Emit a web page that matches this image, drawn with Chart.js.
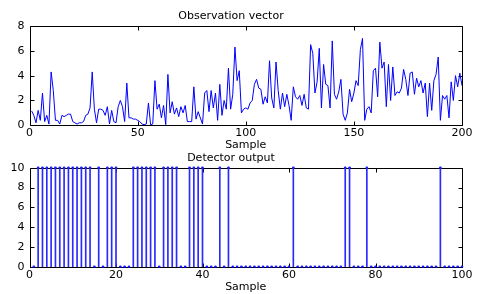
<!DOCTYPE html>
<html><head><meta charset="utf-8">
<script src="https://cdn.jsdelivr.net/npm/chart.js@4/dist/chart.umd.min.js"></script>
<style>
html,body{margin:0;padding:0;background:#fff;}
#wrap{position:relative;width:477px;height:294px;overflow:hidden;background:#fff;}
.box{position:absolute;left:0;width:477px;}
</style></head><body>
<div id="wrap">
<div class="box" style="top:0;height:152px"><canvas id="c1"></canvas></div>
<div class="box" style="top:148px;height:146px"><canvas id="c2"></canvas></div>
</div>
<script>
// ---- data ----
const observationVector = [
 1.15,0.8,0.2,1.2,0.4,2.6,0.3,0.8,0.1,4.3,
 2.8,0.4,0.4,0.1,0.8,0.7,0.8,0.9,0.9,0.3,
 0.2,0.1,0.2,0.2,0.3,0.8,0.9,1.4,4.3,1.3,
 0.2,1.3,1.3,1.2,0.8,1.5,0.1,1.2,0.3,0.2,
 1.5,2.0,1.5,0.3,3.4,0.6,0.6,0.5,0.5,0.4,
 0.3,0.1,0.05,0.1,1.8,0.05,0.1,3.6,1.3,1.7,
 0.6,1.6,0.05,4.1,1.0,1.9,0.9,1.4,0.7,1.5,
 1.0,1.6,0.3,0.3,0.3,3.1,0.5,1.1,0.6,0.1,
 2.6,2.8,1.1,2.8,1.4,2.6,0.4,3.3,0.8,2.0,
 1.3,4.6,1.3,2.5,6.3,3.6,4.4,1.0,1.3,1.4,
 1.3,1.8,2.0,3.3,3.7,3.0,2.9,1.7,2.3,1.8,
 5.2,2.2,1.4,5.1,2.8,1.3,2.6,1.5,2.5,1.6,
 0.4,3.1,2.3,2.1,2.4,1.6,2.5,1.4,1.3,6.5,
 5.8,2.6,3.5,6.2,1.4,4.9,3.3,3.2,1.4,6.8,
 2.5,2.1,2.7,3.7,0.9,0.4,1.0,2.9,1.9,2.6,
 3.6,3.2,6.1,7.0,0.4,1.3,1.5,1.0,4.4,4.6,
 2.3,6.7,4.6,5.1,1.5,4.9,2.0,4.7,2.4,2.7,
 2.6,3.0,4.5,3.7,2.4,4.2,4.3,2.5,3.8,3.1,
 3.6,2.6,3.4,0.7,3.4,1.2,3.6,4.1,5.5,0.4,
 2.4,2.1,2.4,0.6,3.5,2.0,4.0,3.1,4.2,3.2
];
const detectorOutput = [
 0,10,10,10,10,10,10,10,10,10,
 10,10,10,10,0,10,0,10,10,10,
 0,0,0,10,10,10,10,10,10,0,
 10,10,10,10,0,0,10,10,10,10,
 0,0,0,10,0,10,0,0,0,0,
 0,0,0,0,0,0,0,0,0,0,
 10,0,0,0,0,0,0,0,0,0,
 0,0,10,10,0,0,0,10,0,0,
 0,0,0,0,0,0,0,0,0,0,
 0,0,0,0,10,0,0,0,0,0
];
const topXTicks = [0, 50, 100, 150, 200];
const topYTicks = [0, 2, 4, 6, 8];
const botXTicks = [0, 20, 40, 60, 80, 100];
const botYTicks = [0, 2, 4, 6, 8, 10];
const topTitle = 'Observation vector';
const botTitle = 'Detector output';
const xLabel = 'Sample';

// ---- helpers ----
const FONT = {family: '"DejaVu Sans", sans-serif', size: 11, lineHeight: 1.2, weight: 'normal'};
const BLUE = '#0000ff';

const matlabBox = {
  id: 'matlabBox',
  beforeDatasetsDraw(chart) {
    const {ctx, chartArea: a, scales: {x, y}} = chart;
    const L = Math.round(a.left) + 0.5, R = Math.round(a.right) + 0.5;
    const T = Math.round(a.top) + 0.5, B = Math.round(a.bottom) + 0.5;
    ctx.save();
    ctx.strokeStyle = '#000';
    ctx.lineWidth = 1;
    ctx.beginPath();
    ctx.rect(L, T, R - L, B - T);
    x.ticks.forEach(t => {
      const p = Math.round(x.getPixelForValue(t.value)) + 0.5;
      ctx.moveTo(p, B); ctx.lineTo(p, B - 4);
      ctx.moveTo(p, T); ctx.lineTo(p, T + 4);
    });
    y.ticks.forEach(t => {
      const p = Math.round(y.getPixelForValue(t.value)) + 0.5;
      ctx.moveTo(L, p); ctx.lineTo(L + 4, p);
      ctx.moveTo(R, p); ctx.lineTo(R - 4, p);
    });
    ctx.stroke();
    ctx.restore();
  }
};

function makeScales(xTicks, yTicks, xHeight) {
  return {
    x: {
      type: 'linear', min: xTicks[0], max: xTicks[xTicks.length - 1], offset: false,
      afterBuildTicks: s => { s.ticks = xTicks.map(v => ({value: v})); },
      grid: {display: false, drawTicks: false, offset: false},
      border: {display: false},
      ticks: {font: FONT, color: '#000', padding: 1.6, maxRotation: 0, autoSkip: false},
      title: {display: true, text: xLabel, font: FONT, color: '#000', padding: {top: 0, bottom: 0}},
      afterFit: s => { s.height = xHeight; }
    },
    y: {
      type: 'linear', min: yTicks[0], max: yTicks[yTicks.length - 1],
      afterBuildTicks: s => { s.ticks = yTicks.map(v => ({value: v})); },
      grid: {display: false, drawTicks: false},
      border: {display: false},
      ticks: {font: FONT, color: '#000', padding: 5},
      afterFit: s => { s.width = 29.5; }
    }
  };
}

Chart.defaults.font.family = FONT.family;

new Chart(document.getElementById('c1'), {
  type: 'line',
  data: {
    datasets: [{
      data: observationVector.map((v, i) => ({x: i + 1, y: v})),
      borderColor: BLUE, borderWidth: 1, pointRadius: 0, tension: 0, fill: false
    }]
  },
  options: {
    responsive: true, maintainAspectRatio: false, animation: false, devicePixelRatio: 1,
    layout: {padding: {left: 0, right: 15, top: 0, bottom: 0}},
    plugins: {
      legend: {display: false}, tooltip: {enabled: false},
      title: {display: true, text: topTitle, font: FONT, color: '#000', padding: {top: 9.4, bottom: 3.4}}
    },
    scales: makeScales(topXTicks, topYTicks, 26.7)
  },
  plugins: [matlabBox]
});

new Chart(document.getElementById('c2'), {
  type: 'bar',
  data: {
    datasets: [{
      type: 'bar',
      data: detectorOutput.map((v, i) => ({x: i + 1, y: v})),
      backgroundColor: '#2a2aff', borderWidth: 0, barThickness: 1, clip: false
    }, {
      type: 'scatter',
      data: detectorOutput.map((v, i) => ({x: i + 1, y: v})),
      backgroundColor: BLUE, borderColor: BLUE, pointRadius: 1.3, borderWidth: 0, clip: false
    }]
  },
  options: {
    responsive: true, maintainAspectRatio: false, animation: false, devicePixelRatio: 1,
    layout: {padding: {left: 0, right: 15, top: 0, bottom: 0}},
    plugins: {
      legend: {display: false}, tooltip: {enabled: false},
      title: {display: true, text: botTitle, font: FONT, color: '#000', padding: {top: 3.7, bottom: 2.8}}
    },
    scales: makeScales(botXTicks, botYTicks, 27.3)
  },
  plugins: [matlabBox]
});
</script>
</body></html>
